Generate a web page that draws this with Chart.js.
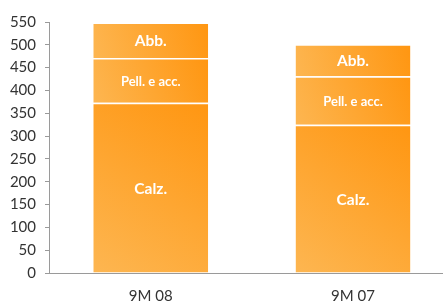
<!DOCTYPE html>
<html>
<head>
<meta charset="utf-8">
<script src="https://cdn.jsdelivr.net/npm/chart.js@4"></script>
<style>
  html, body { margin: 0; padding: 0; background: #fff; }
  #wrap { width: 443px; height: 302px; position: relative; }
</style>
</head>
<body>
<div id="wrap"><canvas id="c"></canvas></div>
<script>
// ---- data ----
const categories = ['9M 08', '9M 07'];
const seriesNames = ['Calz.', 'Pell. e acc.', 'Abb.'];
const calzValues = [373, 325];
const pellValues = [98, 106];
const abbValues = [78, 70];
const yTicks = [0, 50, 100, 150, 200, 250, 300, 350, 400, 450, 500, 550];

const seriesValues = [calzValues, pellValues, abbValues];
const BAR_PCT = 0.568;

function segGradient(ctx) {
  const chart = ctx.chart;
  const xs = chart.scales.x, ys = chart.scales.y;
  if (!chart.chartArea || !xs || !ys) return '#FFA42E';
  const i = ctx.dataIndex, d = ctx.datasetIndex;
  let base = 0;
  for (let k = 0; k < d; k++) base += seriesValues[k][i];
  const top = base + seriesValues[d][i];
  const xc = xs.getPixelForValue(i);
  const half = (xs.getPixelForValue(1) - xs.getPixelForValue(0)) * BAR_PCT / 2;
  const yT = ys.getPixelForValue(top), yB = ys.getPixelForValue(base);
  if (!isFinite(xc) || !isFinite(yT) || !isFinite(yB)) return '#FFA42E';
  const g = chart.ctx.createLinearGradient(xc - half, yB, xc + half, yT);
  g.addColorStop(0, '#FDB651');
  g.addColorStop(1, '#FF9611');
  return g;
}

const datasets = seriesNames.map((name, d) => ({
  label: name,
  data: seriesValues[d].map((v, i) => ({ x: i, y: v })),
  backgroundColor: segGradient,
  borderColor: '#FFFFFF',
  borderWidth: { top: 1.5, left: 0, right: 0, bottom: 0 },
  borderSkipped: false,
  barPercentage: BAR_PCT,
  categoryPercentage: 1,
  labelFont: d === 1 ? 13 : 15.5
}));

const labelPlugin = {
  id: 'segLabels',
  afterDatasetsDraw(chart) {
    const c = chart.ctx;
    c.save();
    c.fillStyle = '#FFFFFF';
    c.textAlign = 'center';
    c.textBaseline = 'middle';
    chart.data.datasets.forEach((ds, d) => {
      const meta = chart.getDatasetMeta(d);
      c.font = 'bold ' + ds.labelFont + 'px Lato, "DejaVu Sans", sans-serif';
      meta.data.forEach((el) => {
        const p = el.getProps(['x', 'y', 'base'], true);
        c.fillText(ds.label, p.x, (p.y + p.base) / 2 + 1);
      });
    });
    c.restore();
  }
};

new Chart(document.getElementById('c'), {
  type: 'bar',
  data: { datasets },
  plugins: [labelPlugin],
  options: {
    responsive: true,
    maintainAspectRatio: false,
    animation: false,
    layout: { padding: { top: 22, right: 0, left: 0, bottom: 0 } },
    plugins: { legend: { display: false }, tooltip: { enabled: false } },
    scales: {
      x: {
        type: 'linear',
        stacked: true,
        offset: false,
        min: -0.503,
        max: 1.445,
        afterBuildTicks(scale) { scale.ticks = categories.map((_, i) => ({ value: i })); },
        afterFit(scale) { scale.height = 29; },
        grid: { display: false, drawTicks: false, offset: false },
        border: { display: true, color: '#9A9A9A', width: 1 },
        ticks: {
          padding: 14,
          color: '#333333',
          font: { family: 'Lato, "DejaVu Sans", sans-serif', size: 15 },
          callback: (v) => categories[v] ?? ''
        }
      },
      y: {
        stacked: true,
        min: 0,
        max: 550,
        afterBuildTicks(scale) { scale.ticks = yTicks.map(v => ({ value: v })); },
        afterFit(scale) { scale.width = 49; },
        grid: { display: true, drawOnChartArea: false, drawTicks: true, tickLength: 4, color: '#9A9A9A' },
        border: { display: true, color: '#9A9A9A', width: 1 },
        ticks: {
          padding: 9,
          color: '#333333',
          font: { family: 'Lato, "DejaVu Sans", sans-serif', size: 15 }
        }
      }
    }
  }
});
</script>
</body>
</html>
